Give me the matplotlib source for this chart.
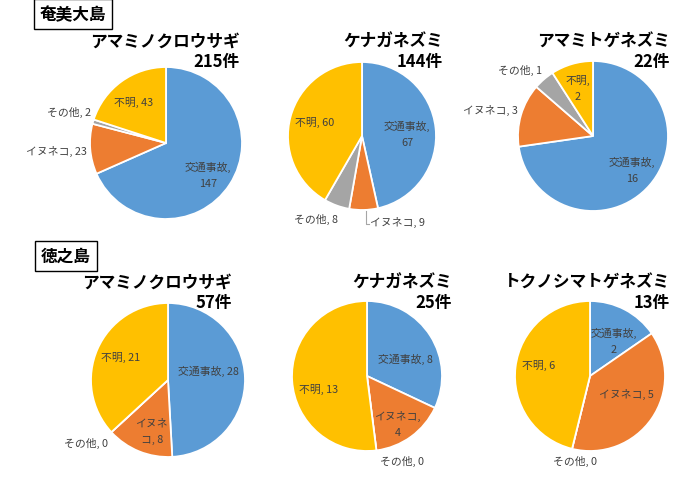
import matplotlib
matplotlib.use('Agg')
import matplotlib.pyplot as plt

plt.rcParams['font.family'] = ['Noto Sans CJK JP', 'DejaVu Sans']

# --------------- データ --------------- #
causes = ['交通事故', 'イヌネコ', 'その他', '不明']
colors = ['#5B9BD5', '#ED7D31', '#A5A5A5', '#FFC000']

islands = ['奄美大島', '徳之島']
species_amami = ['アマミノクロウサギ', 'ケナガネズミ', 'アマミトゲネズミ']
species_toku = ['アマミノクロウサギ', 'ケナガネズミ', 'トクノシマトゲネズミ']

amami_kurousagi = [147, 23, 2, 43]
amami_kenaga = [67, 9, 8, 60]
amami_togenezumi = [16, 3, 1, 2]
toku_kurousagi = [28, 8, 0, 21]
toku_kenaga = [8, 4, 0, 13]
toku_togenezumi = [2, 5, 0, 6]

# --------------- レイアウト (pixel) --------------- #
W, H = 700, 481
# pie center x, center y, radius ; title right edge, title line1 y
pie_boxes = [
    (166, 144, 76, 240, 42), (362, 137, 74, 443, 42), (593, 137, 75, 670, 42),
    (168, 381, 77, 232, 283), (367, 377, 75, 452, 283), (590, 377, 75, 670, 283),
]
# label position in pie units: (x, y, ha, split index)
label_pos = [
    [(0.55, -0.41, 'center', 5), (-1.04, -0.10, 'right', 0), (-0.99, 0.42, 'right', 0), (-0.43, 0.54, 'center', 0)],
    [(0.61, 0.03, 'center', 5), (0.11, -1.15, 'left', 0), (-0.62, -1.12, 'center', 0), (-0.64, 0.20, 'center', 0)],
    [(0.52, -0.44, 'center', 5), (-1.00, 0.36, 'right', 0), (-0.68, 0.89, 'right', 0), (-0.20, 0.65, 'center', 3)],
    [(0.52, 0.12, 'center', 0), (-0.21, -0.66, 'center', 3), (-0.78, -0.81, 'right', 0), (-0.62, 0.30, 'center', 0)],
    [(0.51, 0.23, 'center', 0), (0.41, -0.63, 'center', 5), (0.47, -1.13, 'center', 0), (-0.64, -0.16, 'center', 0)],
    [(0.32, 0.48, 'center', 5), (0.49, -0.23, 'center', 0), (-0.20, -1.12, 'center', 0), (-0.68, 0.16, 'center', 0)],
]

all_values = [amami_kurousagi, amami_kenaga, amami_togenezumi,
              toku_kurousagi, toku_kenaga, toku_togenezumi]
all_names = species_amami + species_toku

fig = plt.figure(figsize=(W / 100, H / 100), dpi=100)

for i, (vals, name) in enumerate(zip(all_values, all_names)):
    cx, cy, r, tx, ty = pie_boxes[i]
    ax = fig.add_axes([(cx - r) / W, 1 - (cy + r) / H, 2 * r / W, 2 * r / H])
    ax.pie(vals, colors=colors, startangle=90, counterclock=False, radius=1,
           wedgeprops=dict(edgecolor='white', linewidth=1.3))
    ax.set_xlim(-1, 1)
    ax.set_ylim(-1, 1)
    ax.axis('off')

    for cause, v, (lx, ly, ha, sp) in zip(causes, vals, label_pos[i]):
        txt = f'{cause}, {v}'
        if sp:
            txt = txt[:sp].rstrip() + '\n' + txt[sp:].lstrip()
        ax.text(lx, ly, txt, ha=ha, va='center', fontsize=7.8, color='#404040',
                linespacing=1.75, multialignment='center', clip_on=False)

    # ケナガネズミのイヌネコ引き出し線
    if i == 1:
        ax.plot([0.055, 0.055, 0.09], [-1.02, -1.19, -1.19], color='#A6A6A6', lw=0.8, clip_on=False)

    fig.text(tx / W, 1 - ty / H, name, ha='right', va='center', fontsize=12, fontweight='bold')
    fig.text(tx / W, 1 - (ty + 20) / H, f'{sum(vals)}件', ha='right', va='center',
             fontsize=12, fontweight='bold')

# --------------- 島名 --------------- #
for name, (x, y) in zip(islands, [(73, 15), (66, 257)]):
    fig.text(x / W, 1 - y / H, name, ha='center', va='center', fontsize=12, fontweight='bold',
             bbox=dict(boxstyle='square,pad=0.35', fc='white', ec='black', lw=1))

fig.savefig('out.png', dpi=100)
